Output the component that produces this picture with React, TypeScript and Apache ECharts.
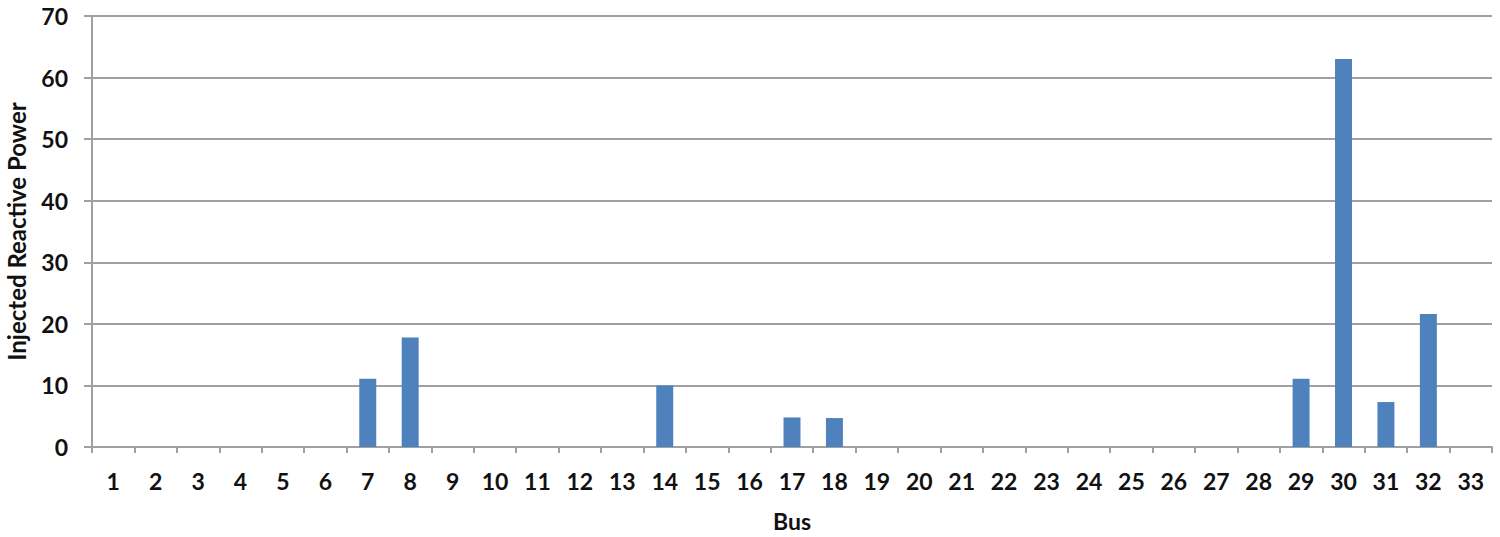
import React, { useEffect, useRef } from "react";
import * as echarts from "echarts";

const buses: string[] = Array.from({ length: 33 }, (_, i) => String(i + 1));
const injectedQ: number[] = [
  0, 0, 0, 0, 0, 0, 11.1, 17.8, 0, 0,
  0, 0, 0, 10, 0, 0, 4.8, 4.7, 0, 0,
  0, 0, 0, 0, 0, 0, 0, 0, 11.1, 63,
  7.3, 21.6, 0,
];

const FONT = "Lato, 'Open Sans', sans-serif";

export default function App() {
  const ref = useRef<HTMLDivElement>(null);
  useEffect(() => {
    if (!ref.current) return;
    const chart = echarts.init(ref.current, undefined, { renderer: "svg" });
    chart.setOption({
      animation: false,
      backgroundColor: "#ffffff",
      grid: {
        left: 92,
        right: 8,
        top: 16,
        bottom: 90,
        containLabel: false,
        outerBoundsMode: "none",
      },
      xAxis: {
        type: "category",
        data: buses,
        name: "Bus",
        nameLocation: "middle",
        nameGap: 62,
        nameTextStyle: { fontFamily: FONT, fontWeight: "bold", fontSize: 23, color: "#111" },
        axisLine: { lineStyle: { color: "#a0a0a0", width: 2 } },
        axisTick: { show: true, alignWithLabel: false, length: 6, lineStyle: { color: "#a0a0a0", width: 2 } },
        axisLabel: { fontFamily: FONT, fontWeight: "bold", fontSize: 23, color: "#111", margin: 22 },
      },
      yAxis: {
        type: "value",
        min: 0,
        max: 70,
        interval: 10,
        name: "Injected Reactive Power",
        nameLocation: "middle",
        nameGap: 64,
        nameTextStyle: { fontFamily: FONT, fontWeight: "bold", fontSize: 24, color: "#111" },
        axisLine: { show: true, lineStyle: { color: "#a0a0a0", width: 2 } },
        axisTick: { show: true, length: 8, lineStyle: { color: "#a0a0a0", width: 2 } },
        axisLabel: { fontFamily: FONT, fontWeight: "bold", fontSize: 23, color: "#111", margin: 24 },
        splitLine: { show: true, lineStyle: { color: "#a0a0a0", width: 2 } },
      },
      series: [
        {
          type: "bar",
          data: injectedQ,
          barWidth: "40%",
          itemStyle: { color: "#4f81bd" },
        },
      ],
    });
    return () => chart.dispose();
  }, []);
  return (
    <div
      ref={ref}
      style={{ position: "absolute", left: 0, top: 0, width: 1500, height: 537 }}
    />
  );
}
